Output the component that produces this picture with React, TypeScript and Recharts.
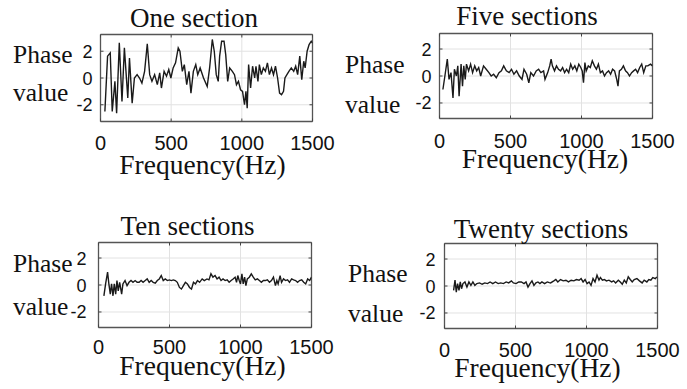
import React from "react";
import { LineChart, Line, XAxis, YAxis, CartesianGrid } from "recharts";

// ---------- data ----------
const ONE_FREQ = [31, 50, 69, 83, 102, 114, 133, 152, 169, 193, 205, 224, 240, 259, 276, 293, 312, 331, 348, 364, 383, 402, 419, 431, 450, 467, 483, 498, 514, 531, 550, 562, 579, 593, 610, 626, 640, 657, 674, 688, 705, 729,
  755, 772, 791, 805, 819, 833, 843, 857, 874, 886, 900, 914, 933, 948, 962, 976, 991, 1005, 1019, 1029, 1038, 1048, 1062, 1076, 1091, 1100, 1114, 1124, 1138, 1152, 1167, 1181, 1195, 1210, 1224, 1238, 1253, 1267, 1281, 1295, 1305, 1319, 1333, 1350, 1367, 1381, 1395, 1410, 1424, 1438, 1448, 1462, 1476, 1491, 1500];
const ONE_PHASE = [-2.5, 1.63, 1.88, -2.5, -0.25, -2.63, 2.63, -1.75, 2.25, -1.5, 1.5, -1.88, 0, 0.25, 0, -0.38, 0.5, 2.55, 0.25, -0.25, 0.25, -0.5, 0.38, -0.75, 0.5, 0.13, 0.63, 0, 0.75, 1.13, 2.25, 2.0, 0.5, 1.0, -0.5, 0.5, -1.13, 0.5, 1.0, 0.25, 0.75, 0,
  -0.63, 0.75, 2.88, 2.0, 0.25, -0.25, 1.63, 2.75, 2.75, 1.75, -0.25, 0.75, 0.5, 0.25, -0.5, -0.25, -0.88, -1.0, -2.0, -1.0, -2.25, 1.0, -0.75, 0.88, 0, 0.88, -0.25, 1.0, 0.25, 0.75, 0.5, 1.13, 0.25, 0.75, 0.25, 0.88, 0, -1.13, -1.25, -1.0, 0, 0.25, 0.5, 0.75, 0.5, 0.88, 0.25, 1.63, -0.13, 1.25, 0.75, 2.0, 2.5, 2.75, 2.6];

const FIVE_FREQ = [24, 38, 55, 67, 81, 95, 105, 119, 129, 138, 152, 162, 171, 181, 190, 205, 219, 233, 248, 262, 276, 290, 310, 329, 348, 364, 381, 400, 419, 436, 452, 471, 490, 507, 524, 543, 562, 581, 595, 614, 629, 643, 662, 681, 698, 714, 733,
  743, 762, 776, 786, 795, 810, 824, 838, 853, 867, 881, 895, 910, 924, 938, 953, 967, 981, 995, 1005, 1014, 1024, 1033, 1048, 1062, 1076, 1091, 1105, 1119, 1133, 1148, 1162, 1176, 1191, 1205, 1219, 1233, 1248, 1257, 1267, 1281, 1295, 1310, 1324, 1338, 1353, 1367, 1381, 1395, 1410, 1424, 1438, 1453, 1467, 1486, 1500];
const FIVE_PHASE = [-1.0, 0, 1.25, -0.25, 0.25, -1.63, 0.5, 0, 0.75, -1.5, 0.88, -0.75, 0.75, -0.25, 0.88, 0.38, 0.88, 0.25, 0.75, 0.38, 0.63, 0, 0.75, 0.5, 0.25, 0, 0.13, -0.13, 0.25, 0.38, 0.75, 0.38, 0.25, 0.5, 0.13, 0.38, 0, -0.25, 0.5, 0.13, -0.5, 0.25, 0, 0.38, 0.5, 0.25, 0.38,
  -0.25, 0.25, 0.75, 1.25, 0.75, 0.38, 0.75, 0.5, 0.38, 0.63, 0.25, 0.5, 0.25, 0.88, 0.5, 0.75, 0.38, 0.88, 0.63, 0.38, -0.5, 1.0, 0.38, 0.75, 0.63, 1.13, 0.75, 0.5, 0.88, 0.25, 0.38, 0, 0.25, 0.38, 0.13, 0.5, 0.38, -0.25, -0.75, 0.38, 0.5, 0.75, 0.38, 0.25, 0, 0.25, 0.38, 0.5, 0.25, 0.63, 0.88, 0.25, 0.75, 0.75, 0.88, 0.75];

const TEN_FREQ = [38, 50, 64, 73, 83, 92, 102, 111, 121, 130, 139, 149, 163, 172, 187, 201, 215, 229, 243, 258, 272, 286, 300, 314, 329, 343, 357, 371, 385, 400, 414, 428, 442, 456, 470, 485, 499, 513, 527, 541, 555, 570, 584, 598, 612, 626, 641, 655, 669, 683, 697, 712, 730,
  745, 764, 778, 792, 806, 821, 835, 849, 863, 877, 892, 906, 920, 934, 948, 962, 972, 981, 991, 1000, 1010, 1019, 1029, 1038, 1048, 1062, 1076, 1090, 1104, 1119, 1133, 1147, 1161, 1175, 1189, 1204, 1218, 1232, 1246, 1256, 1265, 1279, 1289, 1303, 1317, 1331, 1345, 1360, 1374, 1388, 1402, 1416, 1431, 1445, 1459, 1473, 1487, 1500];
const TEN_PHASE = [-0.8, 0.08, 0.95, 0.08, -0.68, 0.08, -0.8, 0.08, -0.68, 0.33, -0.43, 0.2, -0.68, 0.08, 0.33, -0.05, 0.2, 0.33, 0.2, 0.33, 0.2, 0.2, 0.33, 0.2, 0.33, 0.45, 0.2, 0.33, 0.2, 0.13, 0.33, 0.45, 0.7, 0.33, 0.45, 0.33, 0.38, 0.33, 0.38, 0.33, 0.2, -0.18, -0.3, -0.05, 0.2, 0.08, -0.18, -0.3, 0.2, 0.08, 0.33, 0.2, 0.45,
  0.33, 0.45, 0.38, 0.83, 0.58, 0.7, 0.45, 0.58, 0.33, 0.45, 0.33, 0.38, 0.2, 0.33, 0.45, 0.58, 0.2, 0.7, 0.33, 0.08, 0.83, 0.08, 0.58, -0.05, 0.45, 0.58, 0.83, 0.58, 0.38, 0.45, 0.33, 0.2, 0.33, 0.33, 0.38, 0.2, 0.33, 0.58, -0.05, 0.33, 0.08, 0.7, 0.2, 0.45, 0.33, 0.38, 0.2, 0.45, 0.38, 0.33, 0.2, 0.33, 0.38, 0.2, 0.08, 0.45, 0.33, 0.58];

const TWENTY_FREQ = [64, 74, 83, 92, 102, 111, 120, 130, 144, 158, 172, 186, 200, 214, 228, 247, 265, 284, 303, 321, 340, 359, 378, 396, 415, 434, 452, 471, 485, 504, 523, 541, 560, 574, 588, 602, 616, 630, 644, 658, 672, 686, 705, 724, 738,
  747, 770, 784, 798, 817, 836, 855, 873, 892, 911, 929, 948, 962, 976, 990, 1004, 1018, 1032, 1046, 1060, 1074, 1088, 1098, 1112, 1126, 1140, 1158, 1177, 1191, 1205, 1224, 1238, 1252, 1266, 1280, 1294, 1308, 1322, 1336, 1355, 1373, 1392, 1406, 1425, 1439, 1453, 1467, 1485, 1495];
const TWENTY_PHASE = [-0.33, 0.43, -0.45, 0.18, -0.33, 0.3, -0.2, 0.18, 0.3, -0.08, 0.3, 0.05, 0.3, 0.05, 0.18, 0.23, 0.13, 0.23, 0.18, 0.3, 0.18, 0.3, 0.18, 0.23, 0.18, 0.3, 0.23, 0.38, 0.23, 0.18, 0.3, 0.3, 0.18, 0.3, -0.08, 0.18, 0.38, 0.05, 0.23, 0.3, 0.18, 0.3, 0.18, 0.3, 0.25,
  0.23, 0.38, 0.48, 0.3, 0.48, 0.38, 0.43, 0.3, 0.43, 0.38, 0.48, 0.43, 0.55, 0.3, 0.48, 0.18, 0.3, 0.05, 0.55, 0.3, 0.8, 0.43, 0.63, 0.43, 0.48, 0.38, 0.43, 0.3, 0.38, 0.23, 0.43, 0.3, 0.13, 0.43, 0.23, 0.68, 0.48, 0.3, 0.48, 0.55, 0.38, 0.23, 0.43, 0.3, 0.48, 0.43, 0.63, 0.55, 0.68];

const TITLES = ["One section", "Five sections", "Ten sections", "Twenty sections"];
const X_TICKS = [0, 500, 1000, 1500];
const Y_TICKS = [-2, 0, 2];
const X_LABEL = "Frequency(Hz)";
const Y_LABEL_TOP = "Phase";
const Y_LABEL_BOTTOM = "value";

// ---------- layout ----------
const W = 687;
const H = 389;
const SERIF = "'Liberation Serif', 'Times New Roman', serif";
const SANS = "'Liberation Sans', Arial, sans-serif";
const BOX = "#555555";
const TICKC = "#444444";

type Panel = {
  freq: number[];
  phase: number[];
  title: string;
  box: { l: number; r: number; t: number; b: number };
  lim: number;
  titlePos: [number, number];
  phasePos: [number, number];
  valuePos: [number, number];
  xlabPos: [number, number];
  xTickDy: number;
  yTickGap: number;
};

const PANELS: Panel[] = [
  {
    freq: ONE_FREQ, phase: ONE_PHASE, title: TITLES[0],
    box: { l: 100.5, r: 312.5, t: 34.5, b: 121.5 }, lim: 3.25,
    titlePos: [194, 26.5], phasePos: [13, 63], valuePos: [13, 100.5], xlabPos: [202.5, 174],
    xTickDy: 28.5, yTickGap: 8,
  },
  {
    freq: FIVE_FREQ, phase: FIVE_PHASE, title: TITLES[1],
    box: { l: 439.5, r: 652.5, t: 33.5, b: 118.5 }, lim: 3.15,
    titlePos: [527, 25], phasePos: [345, 73], valuePos: [345, 113], xlabPos: [545, 168],
    xTickDy: 29.5, yTickGap: 8,
  },
  {
    freq: TEN_FREQ, phase: TEN_PHASE, title: TITLES[2],
    box: { l: 98.5, r: 311.5, t: 242.5, b: 327.5 }, lim: 3.15,
    titlePos: [187.5, 235], phasePos: [13, 272], valuePos: [13, 315], xlabPos: [202.5, 375],
    xTickDy: 26.5, yTickGap: 12,
  },
  {
    freq: TWENTY_FREQ, phase: TWENTY_PHASE, title: TITLES[3],
    box: { l: 444.5, r: 657.5, t: 243.5, b: 328.5 }, lim: 3.15,
    titlePos: [541, 238.3], phasePos: [348, 282], valuePos: [348, 322], xlabPos: [537.5, 377],
    xTickDy: 28.5, yTickGap: 9,
  },
];

function makeXTick(plotH: number, dy: number) {
  return (props: any) => {
    const { x, y, payload } = props;
    return (
      <g>
        <line x1={x} x2={x} y1={y} y2={y - 3} stroke={TICKC} strokeWidth={1} />
        <line x1={x} x2={x} y1={y - plotH} y2={y - plotH + 3} stroke={TICKC} strokeWidth={1} />
        <text x={x} y={y + dy} textAnchor="middle" fontFamily={SANS} fontSize={20} fill="#111">
          {payload.value}
        </text>
      </g>
    );
  };
}

function makeYTick(plotW: number, gap: number) {
  return (props: any) => {
    const { x, y, payload } = props;
    return (
      <g>
        <line x1={x} x2={x + 3} y1={y} y2={y} stroke={TICKC} strokeWidth={1} />
        <line x1={x + plotW} x2={x + plotW - 3} y1={y} y2={y} stroke={TICKC} strokeWidth={1} />
        <text x={x - gap} y={y + 6.5} textAnchor="end" fontFamily={SANS} fontSize={18} fill="#111">
          {payload.value}
        </text>
      </g>
    );
  };
}

const frameH = ({ offset }: any) => [offset.top, offset.top + offset.height];
const frameV = ({ offset }: any) => [offset.left, offset.left + offset.width];

function PanelChart({ p }: { p: Panel }) {
  const data = p.freq.map((f, i) => ({ f, v: p.phase[i] }));
  const plotW = p.box.r - p.box.l;
  const plotH = p.box.b - p.box.t;
  return (
    <div style={{ position: "absolute", left: 0, top: 0 }}>
      <LineChart
        width={W}
        height={H}
        data={data}
        margin={{ left: p.box.l - 1, top: p.box.t, right: W - p.box.r, bottom: H - p.box.b - 1 }}
      >
        <CartesianGrid stroke="#e2e2e2" strokeWidth={1} />
        <CartesianGrid
          stroke={BOX}
          strokeWidth={1.3}
          horizontalCoordinatesGenerator={frameH}
          verticalCoordinatesGenerator={frameV}
        />
        <Line
          type="linear"
          dataKey="v"
          stroke="#1a1a1a"
          strokeWidth={1.4}
          dot={false}
          isAnimationActive={false}
        />
        <XAxis
          dataKey="f"
          type="number"
          domain={[0, 1500]}
          ticks={X_TICKS}
          interval={0}
          height={1}
          axisLine={false}
          tickLine={false}
          tickSize={0}
          tickMargin={0}
          allowDataOverflow
          tick={makeXTick(plotH, p.xTickDy)}
        />
        <YAxis
          type="number"
          domain={[-p.lim, p.lim]}
          ticks={Y_TICKS}
          interval={0}
          width={1}
          axisLine={false}
          tickLine={false}
          tickSize={0}
          tickMargin={0}
          allowDataOverflow
          tick={makeYTick(plotW, p.yTickGap)}
        />
      </LineChart>
    </div>
  );
}

export default function App() {
  return (
    <div style={{ position: "absolute", left: 0, top: 0, width: W, height: H, background: "#fff" }}>
      {PANELS.map((p, i) => (
        <PanelChart key={i} p={p} />
      ))}
      <svg width={W} height={H} style={{ position: "absolute", left: 0, top: 0, pointerEvents: "none" }}>
        {PANELS.map((p, i) => (
          <g key={i} fontFamily={SERIF} fill="#111">
            <text x={p.titlePos[0]} y={p.titlePos[1]} textAnchor="middle" fontSize={27}>{p.title}</text>
            <text x={p.phasePos[0]} y={p.phasePos[1]} fontSize={25.5}>{Y_LABEL_TOP}</text>
            <text x={p.valuePos[0]} y={p.valuePos[1]} fontSize={25.5}>{Y_LABEL_BOTTOM}</text>
            <text x={p.xlabPos[0]} y={p.xlabPos[1]} textAnchor="middle" fontSize={27.5}>{X_LABEL}</text>
          </g>
        ))}
      </svg>
    </div>
  );
}
